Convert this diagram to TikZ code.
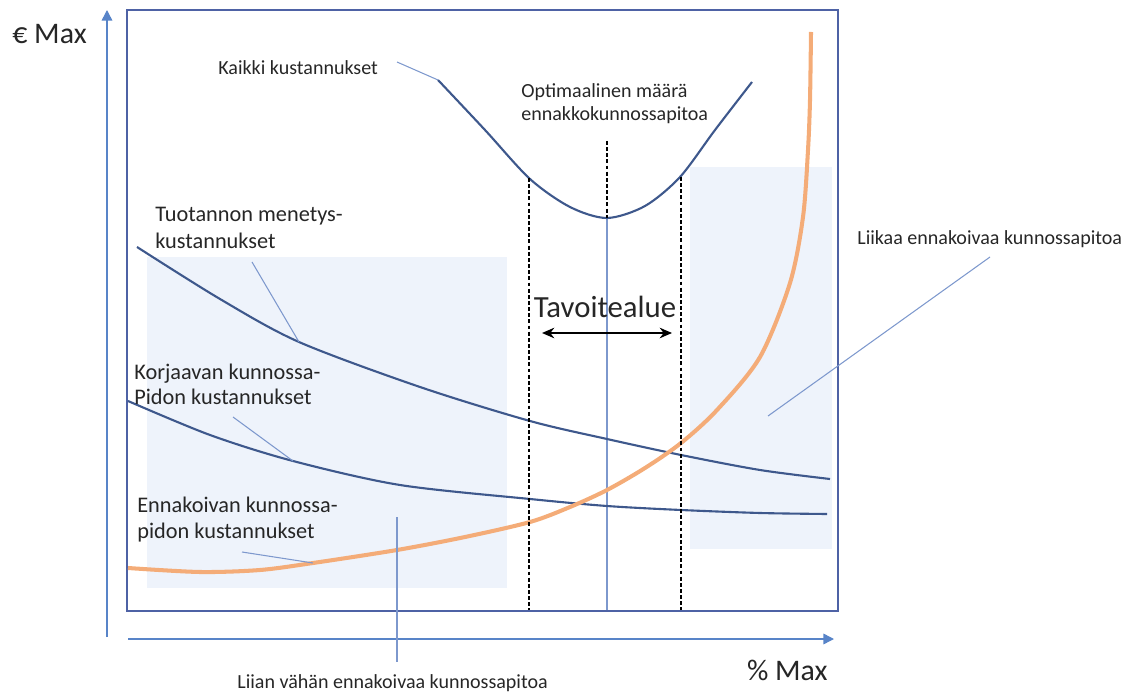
\documentclass[tikz,border=0pt]{standalone}
\usepackage{fontspec}
\setmainfont{Carlito}
\usetikzlibrary{arrows.meta}
\definecolor{curveblue}{RGB}{62,88,140}
\definecolor{frameblue}{RGB}{78,98,165}
\definecolor{axisblue}{RGB}{88,132,200}
\definecolor{leaderblue}{RGB}{125,152,205}
\definecolor{zonefill}{RGB}{238,243,251}
\definecolor{orangec}{RGB}{244,172,120}
\definecolor{textgray}{RGB}{38,38,38}
\tikzset{
  cost/.style={draw=curveblue, line width=1.2pt},
  pcost/.style={draw=orangec, line width=2.3pt},
  leader/.style={draw=leaderblue, line width=0.6pt},
  zone/.style={draw=black, line width=1.1pt, dash pattern=on 2.2pt off 1.3pt},
  axis/.style={draw=axisblue, line width=0.8pt, -{Triangle[length=6pt,width=6pt]}},
  lbl/.style={inner sep=0pt, text=textgray, font=\fontsize{11.4}{13}\selectfont, align=left},
  mid/.style={lbl, font=\fontsize{12.7}{14.4}\selectfont},
  big/.style={inner sep=0pt, text=textgray, font=\fontsize{17}{19}\selectfont},
}
\begin{document}
\begin{tikzpicture}[x=0.02cm, y=-0.02cm]
\useasboundingbox (0,0) rectangle (1132,695);
% shaded zones
\fill[zonefill] (147,257) rectangle (507,588);
\fill[zonefill] (690,167) rectangle (832,549);
% frame
\draw[frameblue, line width=1.2pt] (127,10) rectangle (838,611);
% axes
\coordinate (ya) at (107,637);
\coordinate (yb) at (107,10);
\coordinate (xa) at (128,639);
\coordinate (xb) at (834,639);
\draw[axis] (ya) -- (yb);
\draw[axis] (xa) -- (xb);
\node[big, anchor=west] (ey) at (12,34) {€ Max};
\node[big, anchor=east] (px) at (828,670) {\% Max};
% key coordinates
\coordinate (kstart) at (438,80);
\coordinate (kmin) at (607,218);
\coordinate (tpt) at (299,342);
\coordinate (kpt) at (293,461);
\coordinate (opt) at (313,563);
\coordinate (lowz) at (397,517);
\coordinate (highz) at (768,416);
% dashed target lines
\coordinate (d1a) at (529,178); \coordinate (d1b) at (529,610);
\coordinate (d2a) at (607,141);
\coordinate (d3a) at (681,177); \coordinate (d3b) at (681,610);
\coordinate (vb) at (607,610);
\draw[leader] (kmin) -- (vb);
% curves
\draw[cost] plot[smooth] coordinates {(137,247) (220,299) (299,342) (420,387) (530,421) (607,439) (681,455) (760,470) (830,479)};
\draw[cost] plot[smooth] coordinates {(128,401) (210,435) (293,461) (400,485) (530,499) (607,506) (681,510) (760,513) (827,514)};
\draw[pcost] plot[smooth] coordinates {(128,568) (200,572) (260,570) (313,563) (397,550) (465,537) (530,522) (570,507) (607,490) (645,468) (681,443) (717,410) (760,357) (790,283) (803,217) (808,150) (810,100) (811,32)};
\draw[cost] plot[smooth] coordinates {(kstart) (485,130) (530,179) (570,207) (kmin) (645,206) (680,177) (715,130) (752,82)};
\draw[zone] (d1a) -- (d1b);
\draw[zone] (d2a) -- (kmin);
\draw[zone] (d3a) -- (d3b);
% labels
\node[lbl, anchor=west] (kaikki) at (218,68) {Kaikki kustannukset};
\coordinate (kl) at (397,62);
\draw[leader] (kl) -- (kstart);
\node[lbl, anchor=west] (optim) at (521,103.5) {Optimaalinen määrä\\ennakkokunnossapitoa};
\node[mid, anchor=west, font=\fontsize{12.7}{15.5}\selectfont] (tuot) at (155,228) {Tuotannon menetys-\\kustannukset};
\coordinate (tl) at (252,262);
\draw[leader] (tl) -- (tpt);
\node[mid, anchor=west] (korj) at (134,384.5) {Korjaavan kunnossa-\\Pidon kustannukset};
\coordinate (kl2) at (233,417);
\draw[leader] (kl2) -- (kpt);
\node[mid, anchor=west] (enn) at (137,519.5) {Ennakoivan kunnossa-\\pidon kustannukset};
\coordinate (el) at (242,552);
\draw[leader] (el) -- (opt);
\node[lbl, anchor=west] (liian) at (237,683) {Liian vähän ennakoivaa kunnossapitoa};
\coordinate (ll) at (397,662);
\draw[leader] (lowz) -- (ll);
\node[lbl, anchor=west] (liikaa) at (857,239) {Liikaa ennakoivaa kunnossapitoa};
\coordinate (hl) at (990,257);
\draw[leader] (hl) -- (highz);
\node[inner sep=0pt, text=textgray, font=\fontsize{17.5}{19}\selectfont] (tav) at (605,307) {Tavoitealue};
\coordinate (ta) at (542,333); \coordinate (tb) at (672,333);
\draw[black, line width=1.1pt, {Stealth[length=7pt,width=6pt]}-{Stealth[length=7pt,width=6pt]}] (ta) -- (tb);
\end{tikzpicture}
\end{document}
